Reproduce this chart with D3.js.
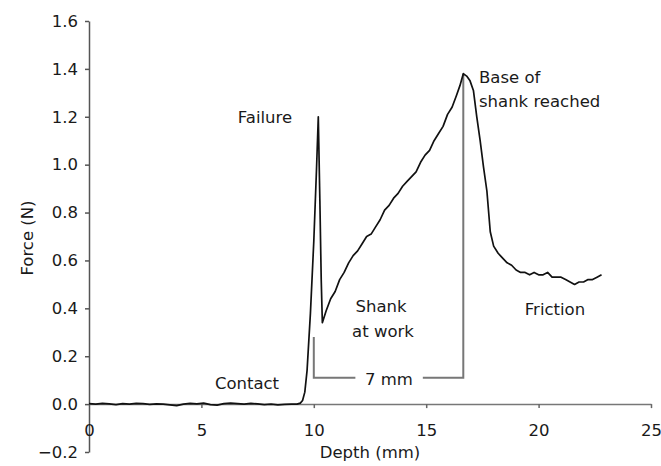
<!DOCTYPE html>
<html lang="en">
<head>
    <meta charset="UTF-8">
    <title>Force vs Depth</title>
    <script src="https://d3js.org/d3.v7.min.js"></script>
    <style>
        body { margin: 0; background: #fff; }
        text { font-family: "DejaVu Sans", sans-serif; fill: #1a1a1a; }
        .tick text { font-size: 16.5px; }
        .note { font-size: 16.5px; }
    </style>
</head>
<body>
    <script>
        // Depth (mm) and force (N)
        const depth = [
            0, 0.3, 0.6, 0.9, 1.2, 1.5, 1.8, 2.1, 2.4, 2.7, 3.0, 3.3, 3.6, 3.9, 4.2, 4.5, 4.8,
            5.1, 5.4, 5.7, 6.0, 6.3, 6.6, 6.9, 7.2, 7.5, 7.8, 8.1, 8.4, 8.7, 9.0, 9.25, 9.4,
            9.5, 9.6, 9.7, 9.85, 10.0, 10.12, 10.2, 10.27, 10.33, 10.38,
            10.55, 10.75, 10.95, 11.15, 11.35, 11.55, 11.75, 11.95, 12.15, 12.35, 12.55, 12.75,
            12.95, 13.15, 13.35, 13.55, 13.75, 13.95, 14.15, 14.35, 14.55, 14.75, 14.95, 15.15,
            15.35, 15.55, 15.75, 15.95, 16.15, 16.35, 16.5, 16.65, 16.8, 16.95,
            17.1, 17.25, 17.4, 17.55, 17.7, 17.85, 18.0, 18.2, 18.4, 18.6, 18.8, 19.0, 19.2,
            19.4, 19.6, 19.8, 20.0, 20.2, 20.4, 20.6, 20.8, 21.0, 21.2, 21.4, 21.6, 21.8,
            22.0, 22.2, 22.4, 22.6, 22.8
        ];
        const force = [
            0.002, 0.000, 0.003, 0.001, -0.002, 0.002, 0.000, 0.003, 0.002, -0.001, 0.001, 0.000, -0.003, -0.006, 0.000, 0.003, 0.001,
            0.004, -0.002, -0.004, 0.002, 0.004, 0.002, 0.000, 0.003, 0.001, -0.002, 0.000, -0.003, -0.001, 0.000, 0.000, 0.004,
            0.015, 0.05, 0.14, 0.38, 0.68, 0.98, 1.20, 0.85, 0.52, 0.34,
            0.39, 0.44, 0.47, 0.52, 0.55, 0.59, 0.62, 0.64, 0.67, 0.70, 0.71, 0.74,
            0.77, 0.81, 0.83, 0.86, 0.88, 0.91, 0.93, 0.95, 0.97, 1.01, 1.04, 1.06,
            1.10, 1.13, 1.16, 1.21, 1.24, 1.29, 1.33, 1.38, 1.37, 1.35,
            1.31, 1.20, 1.10, 0.99, 0.89, 0.72, 0.66, 0.63, 0.61, 0.59, 0.58, 0.56, 0.55,
            0.55, 0.54, 0.55, 0.54, 0.54, 0.55, 0.53, 0.53, 0.53, 0.52, 0.51, 0.50, 0.51,
            0.51, 0.52, 0.52, 0.53, 0.54
        ];

        const xTicks = [0, 5, 10, 15, 20, 25];
        const yTicks = [-0.2, 0.0, 0.2, 0.4, 0.6, 0.8, 1.0, 1.2, 1.4, 1.6];

        // The "7 mm" bracket under the shank section
        const bracketDepth = [10.0, 16.65];
        const bracketForce = [0.11, 0.28, 1.38];

        const width = 661, height = 466;
        const svg = d3.select("body").append("svg")
            .attr("width", width)
            .attr("height", height);

        const x = d3.scaleLinear().domain([0, 25]).range([89, 651]);
        const y = d3.scaleLinear().domain([-0.2, 1.6]).range([452, 21]);

        // y axis
        const yAxis = svg.append("g")
            .attr("transform", `translate(${x(0)},0)`)
            .call(d3.axisLeft(y).tickValues(yTicks)
                .tickFormat(d => d === -0.2 ? "\u22120.2" : d3.format(".1f")(d))
                .tickSize(4).tickSizeOuter(0));
        yAxis.select(".domain").attr("stroke", "#555").attr("stroke-width", 1.5);
        yAxis.selectAll(".tick line").attr("stroke", "#555").attr("stroke-width", 1.5);
        yAxis.selectAll(".tick text").attr("x", -11).attr("font-family", null).attr("font-size", null);

        // x axis drawn at force = 0
        const xAxis = svg.append("g")
            .attr("transform", `translate(0,${y(0)})`)
            .call(d3.axisBottom(x).tickValues(xTicks).tickSize(4).tickSizeOuter(0));
        xAxis.select(".domain").attr("stroke", "#777").attr("stroke-width", 1.5);
        xAxis.selectAll(".tick line").attr("stroke", "#666").attr("stroke-width", 1.5);
        xAxis.selectAll(".tick text").attr("y", 32).attr("dy", 0).attr("font-family", null).attr("font-size", null);
        xAxis.selectAll(".tick").filter(d => d === 0).select("line").remove();

        // bracket
        const bx0 = x(bracketDepth[0]), bx1 = x(bracketDepth[1]);
        const by = y(bracketForce[0]);
        const gapL = x(11.85), gapR = x(14.85);
        const bracket = svg.append("g")
            .attr("fill", "none")
            .attr("stroke", "#777")
            .attr("stroke-width", 2);
        bracket.append("path")
            .attr("d", `M${bx0},${y(bracketForce[1])}V${by}H${gapL}`);
        bracket.append("path")
            .attr("d", `M${gapR},${by}H${bx1}V${y(bracketForce[2])}`);

        // force trace
        const line = d3.line()
            .x((d, i) => x(depth[i]))
            .y(d => y(d));
        svg.append("path")
            .datum(force)
            .attr("d", line)
            .attr("fill", "none")
            .attr("stroke", "#111")
            .attr("stroke-width", 1.7)
            .attr("stroke-linejoin", "round");

        // annotations
        const notes = [
            { t: "Failure", px: 265, py: 123 },
            { t: "Base of", px: 479, py: 83, anchor: "start" },
            { t: "shank reached", px: 479, py: 107, anchor: "start" },
            { t: "Shank", px: 381, py: 312 },
            { t: "at work", px: 383, py: 337 },
            { t: "Friction", px: 555, py: 315 },
            { t: "Contact", px: 247, py: 389 },
            { t: "7 mm", px: 389, py: 385 }
        ];
        svg.selectAll(".note")
            .data(notes)
            .enter().append("text")
            .attr("class", "note")
            .attr("x", d => d.px)
            .attr("y", d => d.py)
            .attr("text-anchor", d => d.anchor || "middle")
            .text(d => d.t);

        // axis titles
        svg.append("text")
            .attr("class", "note")
            .attr("x", 370)
            .attr("y", 458)
            .attr("text-anchor", "middle")
            .text("Depth (mm)");
        svg.append("text")
            .attr("class", "note")
            .attr("transform", "translate(33,238) rotate(-90)")
            .attr("text-anchor", "middle")
            .text("Force (N)");
    </script>
</body>
</html>
